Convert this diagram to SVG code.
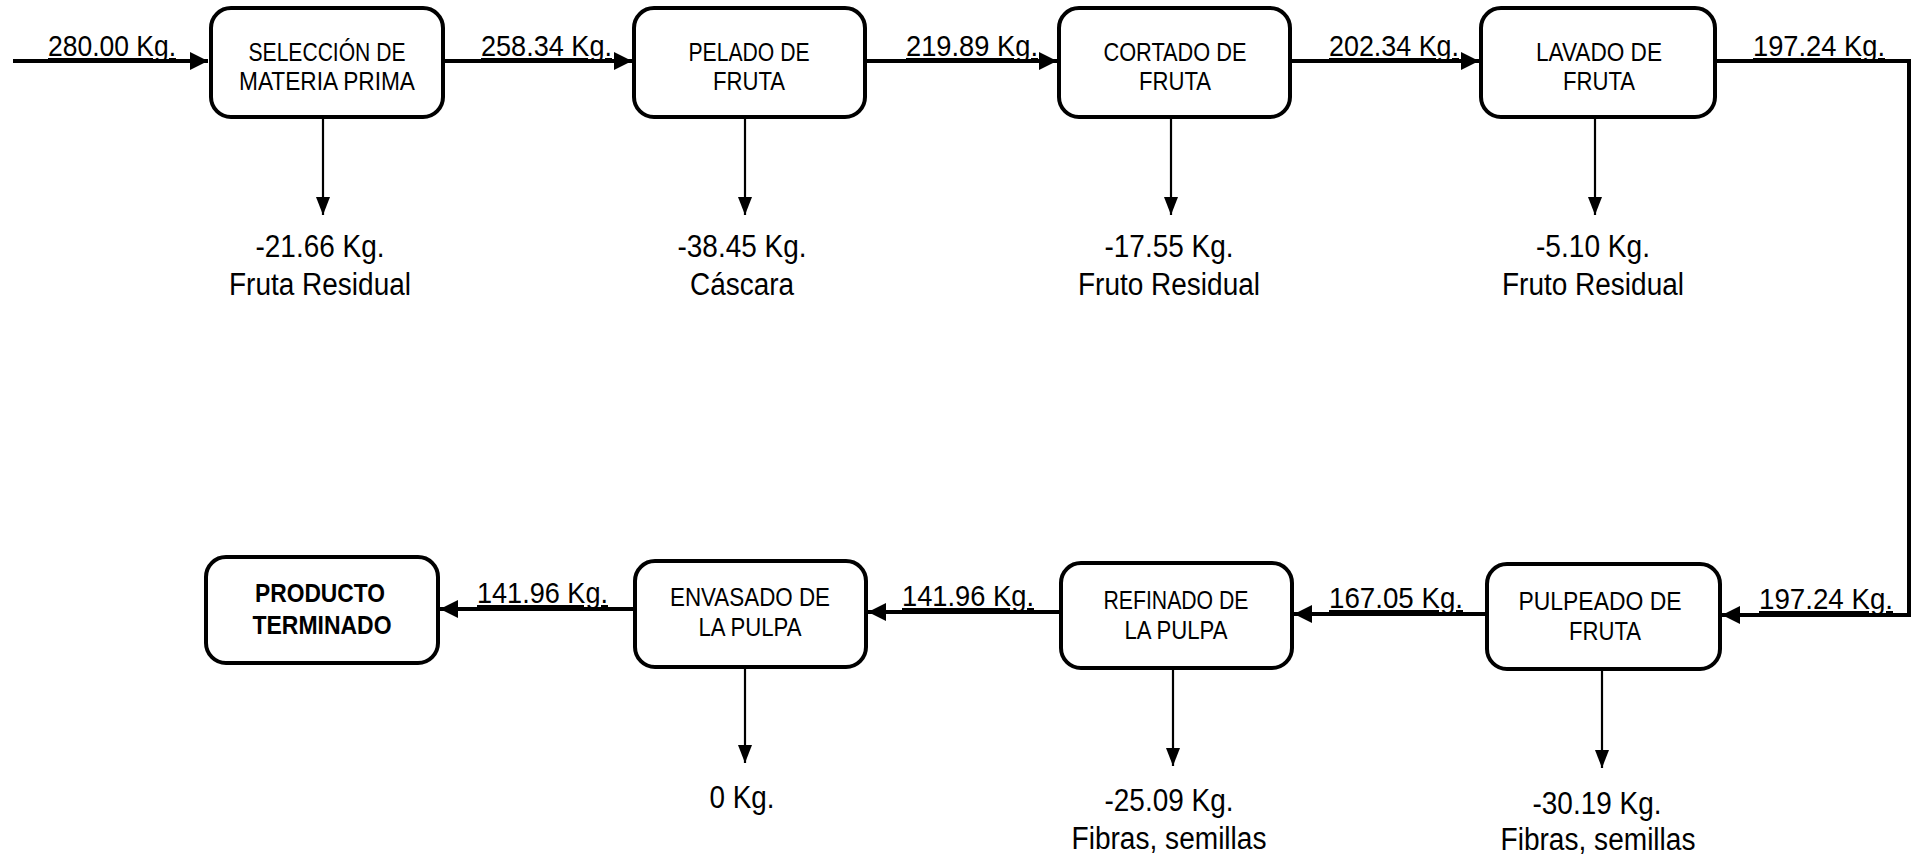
<svg xmlns="http://www.w3.org/2000/svg" width="1919" height="858" viewBox="0 0 1919 858">
<style>
.box{fill:#fff;stroke:#000;stroke-width:4}
.bt{font-family:"Liberation Sans",Arial,sans-serif;font-size:26px;fill:#000;text-anchor:middle}
.bb{font-weight:bold}
.lb{font-family:"Liberation Sans",Arial,sans-serif;font-size:30px;fill:#000;text-decoration:underline}
.dl{font-family:"Liberation Sans",Arial,sans-serif;font-size:31px;fill:#000;text-anchor:middle}
.h{fill:none;stroke:#000;stroke-width:4}
.v{fill:none;stroke:#000;stroke-width:2.2}
</style>
<defs>
<marker id="ah" markerUnits="userSpaceOnUse" markerWidth="20" markerHeight="20" refX="18" refY="9" orient="auto"><path d="M0,0 L18,9 L0,18 z" fill="#000"/></marker>
<marker id="av" markerUnits="userSpaceOnUse" markerWidth="20" markerHeight="16" refX="18" refY="7" orient="auto"><path d="M0,0 L18,7 L0,14 z" fill="#000"/></marker>
</defs>
<rect width="1919" height="858" fill="#fff"/>
<g id="connectors">
<path class="h" d="M13,61 H208" marker-end="url(#ah)"/>
<path class="h" d="M445,61 H632" marker-end="url(#ah)"/>
<path class="h" d="M866,61 H1057" marker-end="url(#ah)"/>
<path class="h" d="M1291,61 H1479" marker-end="url(#ah)"/>
<path class="h" d="M1716,61 H1909 V615 H1722" marker-end="url(#ah)"/>
<path class="h" d="M1487,614 H1294" marker-end="url(#ah)"/>
<path class="h" d="M1061,612 H868" marker-end="url(#ah)"/>
<path class="h" d="M634,609 H440" marker-end="url(#ah)"/>
<path class="v" d="M323,117 V215" marker-end="url(#av)"/>
<path class="v" d="M745,117 V215" marker-end="url(#av)"/>
<path class="v" d="M1171,117 V215" marker-end="url(#av)"/>
<path class="v" d="M1595,117 V215" marker-end="url(#av)"/>
<path class="v" d="M745,667 V763" marker-end="url(#av)"/>
<path class="v" d="M1173,668 V766" marker-end="url(#av)"/>
<path class="v" d="M1602,669 V768" marker-end="url(#av)"/>
<text class="lb" x="48" y="56" textLength="128" lengthAdjust="spacingAndGlyphs">280.00 Kg.</text>
<text class="lb" x="481" y="56" textLength="131" lengthAdjust="spacingAndGlyphs">258.34 Kg.</text>
<text class="lb" x="906" y="56" textLength="132" lengthAdjust="spacingAndGlyphs">219.89 Kg.</text>
<text class="lb" x="1329" y="56" textLength="130" lengthAdjust="spacingAndGlyphs">202.34 Kg.</text>
<text class="lb" x="1753" y="56" textLength="132" lengthAdjust="spacingAndGlyphs">197.24 Kg.</text>
<text class="lb" x="1759" y="609" textLength="134" lengthAdjust="spacingAndGlyphs">197.24 Kg.</text>
<text class="lb" x="1329" y="608" textLength="134" lengthAdjust="spacingAndGlyphs">167.05 Kg.</text>
<text class="lb" x="902" y="606" textLength="132" lengthAdjust="spacingAndGlyphs">141.96 Kg.</text>
<text class="lb" x="477" y="603" textLength="131" lengthAdjust="spacingAndGlyphs">141.96 Kg.</text>
<text class="dl" x="320" y="257" textLength="129" lengthAdjust="spacingAndGlyphs">-21.66 Kg.</text>
<text class="dl" x="320" y="295" textLength="182" lengthAdjust="spacingAndGlyphs">Fruta Residual</text>
<text class="dl" x="742" y="257" textLength="129" lengthAdjust="spacingAndGlyphs">-38.45 Kg.</text>
<text class="dl" x="742" y="295" textLength="104" lengthAdjust="spacingAndGlyphs">Cáscara</text>
<text class="dl" x="1169" y="257" textLength="129" lengthAdjust="spacingAndGlyphs">-17.55 Kg.</text>
<text class="dl" x="1169" y="295" textLength="182" lengthAdjust="spacingAndGlyphs">Fruto Residual</text>
<text class="dl" x="1593" y="257" textLength="114" lengthAdjust="spacingAndGlyphs">-5.10 Kg.</text>
<text class="dl" x="1593" y="295" textLength="182" lengthAdjust="spacingAndGlyphs">Fruto Residual</text>
<text class="dl" x="742" y="808" textLength="65" lengthAdjust="spacingAndGlyphs">0 Kg.</text>
<text class="dl" x="1169" y="811" textLength="129" lengthAdjust="spacingAndGlyphs">-25.09 Kg.</text>
<text class="dl" x="1169" y="849" textLength="195" lengthAdjust="spacingAndGlyphs">Fibras, semillas</text>
<text class="dl" x="1597" y="814" textLength="129" lengthAdjust="spacingAndGlyphs">-30.19 Kg.</text>
<text class="dl" x="1598" y="850" textLength="195" lengthAdjust="spacingAndGlyphs">Fibras, semillas</text>
</g>
<g id="seleccion">
<rect class="box" x="211" y="8" width="232" height="109" rx="20"/>
<text class="bt" x="327" y="61" textLength="157" lengthAdjust="spacingAndGlyphs">SELECCIÓN DE</text>
<text class="bt" x="327" y="90" textLength="176" lengthAdjust="spacingAndGlyphs">MATERIA PRIMA</text>
</g>
<g id="pelado">
<rect class="box" x="634" y="8" width="231" height="109" rx="20"/>
<text class="bt" x="749" y="61" textLength="121" lengthAdjust="spacingAndGlyphs">PELADO DE</text>
<text class="bt" x="749" y="90" textLength="72" lengthAdjust="spacingAndGlyphs">FRUTA</text>
</g>
<g id="cortado">
<rect class="box" x="1059" y="8" width="231" height="109" rx="20"/>
<text class="bt" x="1175" y="61" textLength="143" lengthAdjust="spacingAndGlyphs">CORTADO DE</text>
<text class="bt" x="1175" y="90" textLength="72" lengthAdjust="spacingAndGlyphs">FRUTA</text>
</g>
<g id="lavado">
<rect class="box" x="1481" y="8" width="234" height="109" rx="20"/>
<text class="bt" x="1599" y="61" textLength="126" lengthAdjust="spacingAndGlyphs">LAVADO DE</text>
<text class="bt" x="1599" y="90" textLength="72" lengthAdjust="spacingAndGlyphs">FRUTA</text>
</g>
<g id="pulpeado">
<rect class="box" x="1487" y="564" width="233" height="105" rx="20"/>
<text class="bt" x="1600" y="610" textLength="163" lengthAdjust="spacingAndGlyphs">PULPEADO DE</text>
<text class="bt" x="1605" y="640" textLength="72" lengthAdjust="spacingAndGlyphs">FRUTA</text>
</g>
<g id="refinado">
<rect class="box" x="1061" y="563" width="231" height="105" rx="20"/>
<text class="bt" x="1176" y="609" textLength="145" lengthAdjust="spacingAndGlyphs">REFINADO DE</text>
<text class="bt" x="1176" y="639" textLength="103" lengthAdjust="spacingAndGlyphs">LA PULPA</text>
</g>
<g id="envasado">
<rect class="box" x="635" y="561" width="231" height="106" rx="20"/>
<text class="bt" x="750" y="606" textLength="160" lengthAdjust="spacingAndGlyphs">ENVASADO DE</text>
<text class="bt" x="750" y="636" textLength="103" lengthAdjust="spacingAndGlyphs">LA PULPA</text>
</g>
<g id="producto">
<rect class="box" x="206" y="557" width="232" height="106" rx="20"/>
<text class="bt bb" x="320" y="602" textLength="130" lengthAdjust="spacingAndGlyphs">PRODUCTO</text>
<text class="bt bb" x="322" y="634" textLength="139" lengthAdjust="spacingAndGlyphs">TERMINADO</text>
</g>
</svg>
